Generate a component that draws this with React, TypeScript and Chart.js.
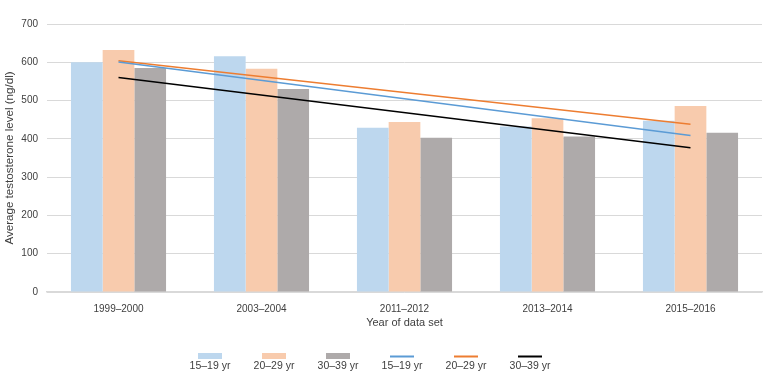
import React, { useEffect, useRef } from "react";
import { Chart, registerables } from "chart.js";

Chart.register(...registerables);

const categories = ["1999–2000", "2003–2004", "2011–2012", "2013–2014", "2015–2016"];
const seriesLabels = ["15–19 yr", "20–29 yr", "30–39 yr"];
const bars15_19 = [600, 616, 429, 432, 447];
const bars20_29 = [632, 583, 444, 454, 486];
const bars30_39 = [585, 530, 403, 406, 416];
const trend15_19 = [601, null, null, null, 409];
const trend20_29 = [604, null, null, null, 438];
const trend30_39 = [560, null, null, null, 377];
const yTicks = [0, 100, 200, 300, 400, 500, 600, 700];

const barColors = ["#BDD7EE", "#F8CBAD", "#AEAAAA"];
const lineColors = ["#5B9BD5", "#ED7D31", "#000000"];
const FONT = "'Liberation Sans', Arial, sans-serif";
const TEXT = "#404040";

const legendPlugin = {
  id: "customLegend",
  afterDraw(chart: any) {
    const ctx = chart.ctx;
    const ds = chart.data.datasets;
    const startX = 210;
    const step = 64;
    ctx.save();
    ctx.font = `10.5px ${FONT}`;
    ctx.fillStyle = TEXT;
    ctx.textAlign = "center";
    ctx.textBaseline = "middle";
    ds.forEach((d: any, i: number) => {
      const cx = startX + i * step;
      if (d.type === "line") {
        ctx.strokeStyle = d.borderColor;
        ctx.lineWidth = 2;
        ctx.beginPath();
        ctx.moveTo(cx - 12, 356.5);
        ctx.lineTo(cx + 12, 356.5);
        ctx.stroke();
      } else {
        ctx.fillStyle = d.backgroundColor;
        ctx.fillRect(cx - 12, 353, 24, 6);
      }
      ctx.fillStyle = TEXT;
      ctx.fillText(d.label, cx, 366);
    });
    ctx.restore();
  },
};

export default function App() {
  const ref = useRef<HTMLCanvasElement | null>(null);
  useEffect(() => {
    if (!ref.current) return;
    const barData = [bars15_19, bars20_29, bars30_39];
    const trendData = [trend15_19, trend20_29, trend30_39];
    const datasets: any[] = [];
    barData.forEach((d, i) =>
      datasets.push({
        type: "bar",
        label: seriesLabels[i],
        data: d,
        backgroundColor: barColors[i],
        borderWidth: 0,
        barPercentage: 1,
        categoryPercentage: 0.665,
        order: 2,
      })
    );
    trendData.forEach((d, i) =>
      datasets.push({
        type: "line",
        label: seriesLabels[i],
        data: d,
        borderColor: lineColors[i],
        backgroundColor: lineColors[i],
        borderWidth: 1.5,
        pointRadius: 0,
        spanGaps: true,
        fill: false,
        order: 1,
      })
    );
    const chart = new Chart(ref.current, {
      type: "bar",
      data: { labels: categories, datasets },
      options: {
        animation: false,
        responsive: false,
        maintainAspectRatio: false,
        layout: { padding: { top: 24, right: 1, bottom: 54, left: 0 } },
        plugins: { legend: { display: false }, tooltip: { enabled: false } },
        scales: {
          x: {
            grid: { display: false },
            border: { color: "#d9d9d9", width: 1.5 },
            ticks: { color: TEXT, font: { family: FONT, size: 10 }, padding: 3 },
            title: {
              display: true,
              text: "Year of data set",
              color: TEXT,
              font: { family: FONT, size: 11 },
              padding: { top: 8, bottom: 0 },
            },
            afterFit(scale: any) {
              scale.height = 38;
            },
          },
          y: {
            min: 0,
            max: 700,
            afterBuildTicks(scale: any) {
              scale.ticks = yTicks.map((v) => ({ value: v }));
            },
            grid: { color: "#d9d9d9", lineWidth: 1, drawTicks: false },
            border: { display: false },
            ticks: { color: TEXT, font: { family: FONT, size: 10 }, padding: 9 },
            title: {
              display: true,
              text: "Average testosterone level (ng/dl)",
              color: TEXT,
              font: { family: FONT, size: 11.6 },
              padding: { top: 3, bottom: 0 },
            },
            afterFit(scale: any) {
              scale.width = 47;
            },
          },
        },
      },
      plugins: [legendPlugin],
    } as any);
    return () => chart.destroy();
  }, []);
  return (
    <div style={{ position: "fixed", left: 0, top: 0, width: 763, height: 384, background: "#fff" }}>
      <canvas ref={ref} width={763} height={384} style={{ width: 763, height: 384, display: "block" }} />
    </div>
  );
}
